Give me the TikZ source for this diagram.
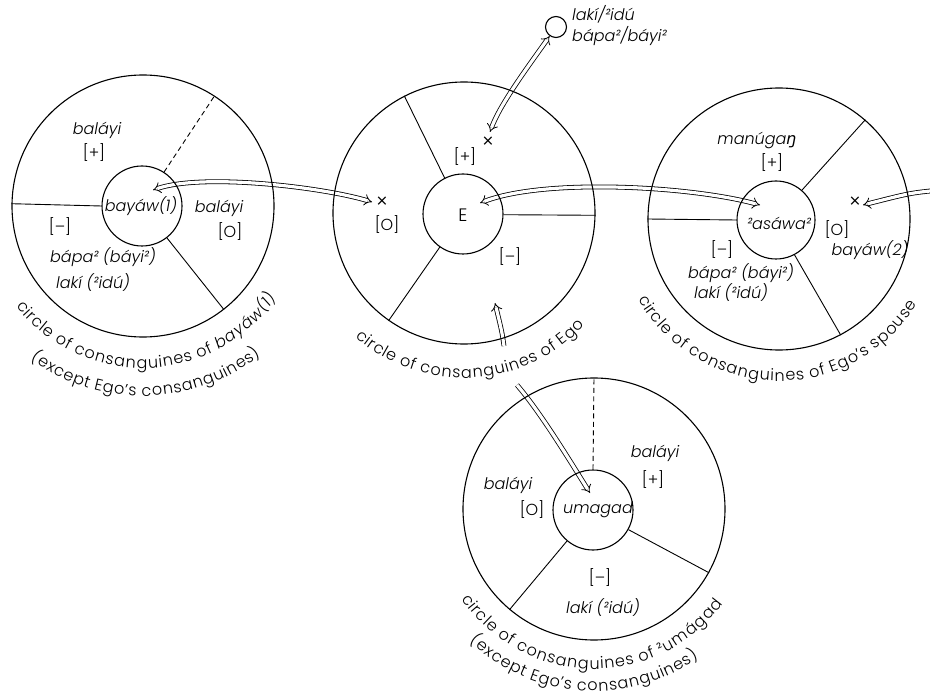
\documentclass[tikz,border=0pt]{standalone}
\usepackage{fontspec}
\IfFontExistsTF{Poppins Light}{%
  \IfFontExistsTF{Poppins Light Italic}%
    {\setmainfont{Poppins Light}[ItalicFont={Poppins Light Italic}]}%
    {\setmainfont{Poppins Light}}}%
  {\setmainfont{Poppins}}
\newfontfamily\fallbackfont{DejaVu Sans}
\newcommand\engchar{\iffontchar\font"014B\relax ŋ\else{\fallbackfont\itshape ŋ}\fi}
\newcommand\arcfont{\fontsize{16}{18}\selectfont}
\usetikzlibrary{arrows.meta,decorations.text,calc,backgrounds}
\begin{document}
\begin{tikzpicture}[x=1pt,y=-1pt,
  lbl/.style={inner sep=0pt, font=\fontsize{16}{18}\selectfont},
  it/.style={inner sep=0pt, font=\fontsize{16}{18}\selectfont\itshape},
  cross/.style={inner sep=0pt, font=\fontsize{20}{22}\selectfont},
  ring/.style={circle, draw, line width=1.1pt, inner sep=0pt, minimum size=262pt},
  core/.style={circle, draw, line width=1.1pt, inner sep=0pt, minimum size=80pt},
  divider/.style={line width=0.9pt},
  dashdiv/.style={line width=0.9pt, dash pattern=on 5pt off 3.5pt},
  dbl/.style={double, line width=0.8pt, double distance=3.2pt},
  tip/.style={arrows={#1}},
]
\useasboundingbox (0,0) rectangle (930,695);

% circles
\node[ring] (L) at (143,206) {};
\node[core] (Li) at (142,206) {};
\node[ring] (M) at (464,213) {};
\node[core] (Mi) at (463,214) {};
\node[ring] (R) at (779,219) {};
\node[core, minimum size=78pt] (Ri) at (776,220) {};
\node[ring] (B) at (594,509) {};
\node[core] (Bi) at (593,510) {};
\node[circle, draw, line width=1.1pt, minimum size=21pt, inner sep=0pt] (S) at (556,27) {};

% dividers
\draw[divider] (Li.180) -- (L.179);
\draw[dashdiv] (Li.57) -- (L.57);
\draw[divider] (Li.-52) -- (L.-52);
\draw[divider] (Mi.117) -- (M.117);
\draw[divider] (Mi.-1) -- (M.-1);
\draw[divider] (Mi.-125) -- (M.-125);
\draw[divider] (Ri.49) -- (R.49);
\draw[divider] (Ri.180) -- (R.180);
\draw[divider] (Ri.-62) -- (R.-62);
\draw[dashdiv] (Bi.90) -- (B.90);
\draw[divider] (Bi.-29) -- (B.-29);
\draw[divider] (Bi.-130) -- (B.-130);

% left circle texts
\node[it] (l1) at (97,130) {baláyi};
\node[lbl] (l2) at (94,153) {[+]};
\node[it] (l3) at (141,206) {bayáw(1)};
\node[it] (l4) at (219,208) {baláyi};
\node[lbl] (l5) at (230,232) {[O]};
\node[lbl] (l6) at (60,227) {[–]};
\node[it] (l7) at (103,257) {bápa² (báyi²)};
\node[it] (l8) at (93,283) {lakí (²idú)};

% middle circle texts
\node[cross] (xO) at (382,203) {×};
\node[lbl] (m1) at (387,225) {[O]};
\node[lbl] (m2) at (465,157) {[+]};
\node[cross] (xP) at (488,143) {×};
\node[lbl, font=\fontsize{18}{20}\selectfont] (E) at (463,215) {E};
\node[lbl] (m3) at (510,257) {[–]};

% right circle texts
\node[it] (r1) at (757,140) {manúga\engchar};
\node[lbl] (r2) at (772,163) {[+]};
\node[it] (r3) at (779,223) {²asáwa²};
\node[cross] (xR) at (855,203) {×};
\node[lbl] (r4) at (837,230) {[O]};
\node[it] (r5) at (870,250) {bayáw(2)};
\node[lbl] (r6) at (722,250) {[–]};
\node[it] (r7) at (741,273) {bápa² (báyi²)};
\node[it] (r8) at (731,293) {lakí (²idú)};

% bottom circle texts
\node[it] (b1) at (508,485) {baláyi};
\node[lbl] (b2) at (532,510) {[O]};
\node[it] (b3) at (598,510) {umagad};
\node[it] (b4) at (655,453) {baláyi};
\node[lbl] (b5) at (653,480) {[+]};
\node[lbl] (b6) at (600,578) {[–]};
\node[it] (b7) at (603,608) {lakí (²idú)};

% small circle text
\node[it, anchor=west] (s1) at (572,14) {lakí/²idú};
\node[it, anchor=west] (s2) at (572,36) {bápa²/báyi²};

% arc labels (in an upright y system)
\begin{scope}[y=1pt, arclbl/.style={decorate, decoration={text along path, text align=center, raise=-15pt, text={#1}}}]
\path[arclbl={|\arcfont|circle of consanguines of |\arcfont\itshape|bayáw(1)}]
  ($(L)+(-163:147)$) arc[start angle=-163, end angle=-13, radius=147];
\path[arclbl={|\arcfont|(except Ego’s consanguines)}]
  ($(L)+(-164:175)$) arc[start angle=-164, end angle=-14, radius=175];
\path[arclbl={|\arcfont|circle of consanguines of Ego}]
  ($(M)+(-162:150)$) arc[start angle=-162, end angle=-12, radius=150];
\path[arclbl={|\arcfont|circle of consanguines of Ego’s spouse}]
  ($(R)+(-166:147)$) arc[start angle=-166, end angle=-16, radius=147];
\path[arclbl={|\arcfont|circle of consanguines of ²umágad}]
  ($(B)+(-166:145)$) arc[start angle=-166, end angle=-16, radius=145];
\path[arclbl={|\arcfont|(except Ego’s consanguines)}]
  ($(B)+(-171:167)$) arc[start angle=-171, end angle=-17, radius=167];
\end{scope}

% arrow end points
\coordinate (a1s) at (153,190);
\coordinate (a1e) at (372,202);
\coordinate (a2s) at (480,203);
\coordinate (a2e) at (760,205);
\coordinate (a3s) at (940,190);
\coordinate (a3e) at (863,205);
\coordinate (a4s) at (490,132);
\coordinate (a5a) at (504,346);
\coordinate (a5b) at (495,303);
\coordinate (a5c) at (517,385);
\coordinate (a5d) at (590,493);

\begin{pgfonlayer}{background}
\draw[dbl, tip={Implies[scale=1.4]-Implies[scale=1.4]}] (a1s) .. controls (203,173) and (322,187) .. (a1e);
\draw[dbl, tip={Implies[scale=1.4]-Implies[scale=1.4]}] (a2s) .. controls (545,178) and (690,186) .. (a2e);
\draw[dbl, tip={-Implies[scale=1.4]}] (a3s) .. controls (910,193) .. (a3e);
\draw[dbl, tip={Implies[scale=1.4]-Implies[scale=1.4]}] (a4s) .. controls (500,104) and (530,64) .. (S.-125);
\draw[dbl, tip={-Implies[scale=1.4]}] (a5a) .. controls (502,332) .. (a5b);
\draw[dbl, tip={-Implies[scale=1.4]}] (a5c) .. controls (541,413) and (570,461) .. (a5d);
\end{pgfonlayer}
\end{tikzpicture}
\end{document}
